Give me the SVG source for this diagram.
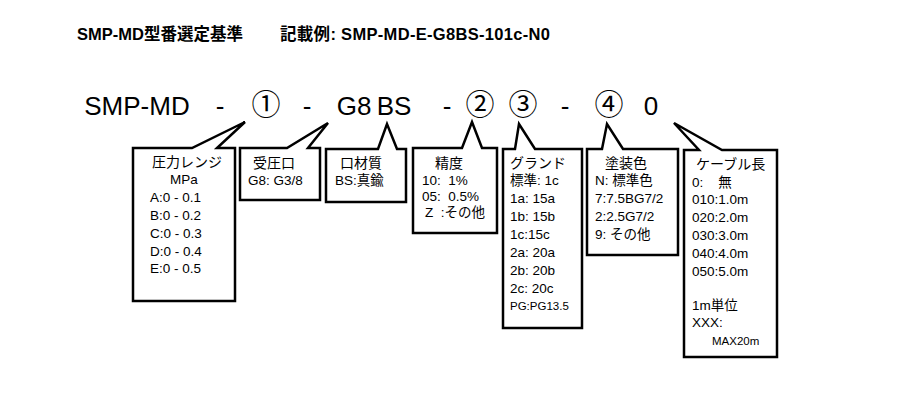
<svg xmlns="http://www.w3.org/2000/svg" width="900" height="406" viewBox="0 0 900 406">
<style>
.bg{fill:#fff}
.co{fill:#fff;stroke:#000;stroke-width:2.5;stroke-linejoin:miter}
text{white-space:pre}
.ttl{font-family:"Liberation Sans","Noto Sans CJK JP",sans-serif;font-size:16.5px;font-weight:bold;fill:#000}
.big{font-family:"Liberation Sans","Noto Sans CJK JP",sans-serif;font-size:26px;fill:#000;text-anchor:middle}
.cir{font-family:"Noto Sans CJK JP",sans-serif;font-size:29px;fill:#000;text-anchor:middle}
.hd{font-family:"Liberation Sans","Noto Sans CJK JP",sans-serif;font-size:14px;fill:#000}
.t{font-family:"Liberation Sans","Noto Sans CJK JP",sans-serif;font-size:13.5px;fill:#000}
.s{font-family:"Liberation Sans","Noto Sans CJK JP",sans-serif;font-size:11.5px;fill:#000}
</style>
<rect class="bg" x="0" y="0" width="900" height="406"/>
<g id="title">
<text class="ttl" x="77" y="40">SMP-MD型番選定基準</text>
<text class="ttl" x="280" y="40" textLength="270" lengthAdjust="spacing">記載例: SMP-MD-E-G8BS-101c-N0</text>
</g>
<g id="code">
<text class="big" x="137" y="115">SMP-MD</text>
<text class="big" x="220" y="115">-</text>
<text class="cir" x="266" y="115">①</text>
<text class="big" x="307" y="115">-</text>
<text class="big" x="354" y="115">G8</text>
<text class="big" x="394" y="115">BS</text>
<text class="big" x="447" y="115">-</text>
<text class="cir" x="480" y="115">②</text>
<text class="cir" x="523" y="115">③</text>
<text class="big" x="565" y="115">-</text>
<text class="cir" x="609" y="115">④</text>
<text class="big" x="651" y="115">0</text>
</g>
<g id="n1">
<path class="co" d="M133,148 L192,148 L245,122 L217,148 L235,148 L235,301 L133,301 Z"/>
<text class="hd" x="152" y="167">圧力レンジ</text>
<text class="t" x="170" y="184">MPa</text>
<text class="t" x="150" y="202">A:0 - 0.1</text>
<text class="t" x="150" y="220">B:0 - 0.2</text>
<text class="t" x="150" y="238">C:0 - 0.3</text>
<text class="t" x="150" y="256">D:0 - 0.4</text>
<text class="t" x="150" y="273">E:0 - 0.5</text>
</g>
<g id="n2">
<path class="co" d="M240,148 L287,148 L328,123 L308,148 L320,148 L320,200 L240,200 Z"/>
<text class="hd" x="253" y="168">受圧口</text>
<text class="t" x="248" y="185">G8: G3/8</text>
</g>
<g id="n3">
<path class="co" d="M326,149 L378,149 L387,124 L397,149 L406,149 L406,202 L326,202 Z"/>
<text class="hd" x="340" y="168">口材質</text>
<text class="t" x="335" y="185">BS:真鍮</text>
</g>
<g id="n4">
<path class="co" d="M413,148 L462,148 L472,122 L482,148 L497,148 L497,233 L413,233 Z"/>
<text class="hd" x="435" y="168">精度</text>
<text class="t" x="422" y="185">10:  1%</text>
<text class="t" x="422" y="201">05:  0.5%</text>
<text class="t" x="425" y="217">Z  :その他</text>
</g>
<g id="n5">
<path class="co" d="M503,149 L515,149 L519,124 L535,149 L582,149 L582,328 L503,328 Z"/>
<text class="hd" x="510" y="168">グランド</text>
<text class="t" x="510" y="185">標準: 1c</text>
<text class="t" x="510" y="203">1a: 15a</text>
<text class="t" x="510" y="221">1b: 15b</text>
<text class="t" x="510" y="239">1c:15c</text>
<text class="t" x="510" y="257">2a: 20a</text>
<text class="t" x="510" y="275">2b: 20b</text>
<text class="t" x="510" y="293">2c: 20c</text>
<text class="s" x="510" y="310">PG:PG13.5</text>
</g>
<g id="n6">
<path class="co" d="M587,149 L602,149 L607,124 L623,149 L678,149 L678,255 L587,255 Z"/>
<text class="hd" x="605" y="168">塗装色</text>
<text class="t" x="595" y="185">N: 標準色</text>
<text class="t" x="595" y="203">7:7.5BG7/2</text>
<text class="t" x="595" y="221">2:2.5G7/2</text>
<text class="t" x="595" y="239">9: その他</text>
</g>
<g id="n7">
<path class="co" d="M684,150 L699,150 L674,123 L722,150 L777,150 L777,357 L684,357 Z"/>
<text class="hd" x="696" y="169">ケーブル長</text>
<text class="t" x="692" y="187">0:    無</text>
<text class="t" x="692" y="204">010:1.0m</text>
<text class="t" x="692" y="222">020:2.0m</text>
<text class="t" x="692" y="240">030:3.0m</text>
<text class="t" x="692" y="258">040:4.0m</text>
<text class="t" x="692" y="276">050:5.0m</text>
<text class="t" x="692" y="310">1m単位</text>
<text class="t" x="692" y="327">XXX:</text>
<text class="s" x="712" y="345">MAX20m</text>
</g>
</svg>
